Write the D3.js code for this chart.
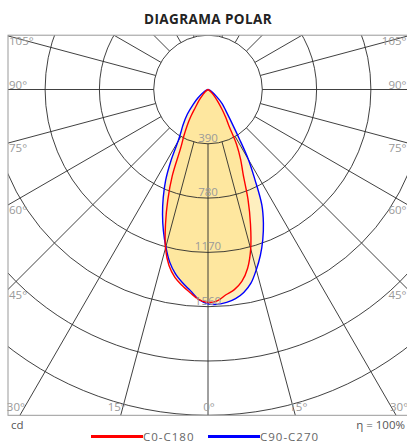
<!DOCTYPE html>
<meta charset="utf-8">
<style>
body { margin: 0; background: #fff; }
text { font-family: "Open Sans", "Lato", sans-serif; }
.grid line, .grid circle { fill: none; stroke: #2b2b2b; stroke-width: 0.9; }
.lbl { fill: #9a9a9a; font-size: 11.5px; }
</style>
<body>
<script src="https://cdn.jsdelivr.net/npm/d3@7"></script>
<script>

// photometric data (cd), angles from nadir
var angles = [0, 2.5, 5, 7.5, 10, 12.5, 15, 17.5, 20, 22.5, 25, 27.5, 30, 32.5, 35, 40, 45, 50, 60, 70, 80, 90];
var c0   = [1530, 1520, 1480, 1450, 1400, 1315, 1185, 1015, 840, 660, 555, 445, 300, 235, 180, 100, 55, 30, 5, 0, 0, 0];
var c180 = [1530, 1510, 1465, 1420, 1370, 1295, 1180, 1015, 845, 670, 465, 375, 300, 230, 160, 95, 50, 30, 5, 0, 0, 0];
var c90  = [1540, 1545, 1535, 1515, 1480, 1425, 1340, 1250, 1150, 1040, 915, 730, 580, 415, 310, 200, 145, 85, 30, 0, 0, 0];
var c270 = [1540, 1510, 1450, 1400, 1345, 1270, 1170, 1065, 955, 840, 720, 575, 430, 360, 315, 230, 150, 95, 35, 0, 0, 0];

var rings = [390, 780, 1170, 1560, 1950, 2340];
var ringLabels = [390, 780, 1170, 1560];
var spokes = d3.range(-165, 181, 15);
var sideLabels = [45, 60, 75, 90, 105];
var bottomLabels = [-30, -15, 0, 15, 30];

var width = 407, height = 444;
var cx = 208, cy = 89.5;

var r = d3.scaleLinear().domain([0, 390]).range([0, 54.3]);

var box = {x0: 8, x1: 407.5, y0: cy - r(390), y1: cy + r(2340)};

var svg = d3.select("body").append("svg")
    .attr("width", width)
    .attr("height", height);

svg.append("text")
    .attr("x", 208)
    .attr("y", 24)
    .attr("text-anchor", "middle")
    .style("font-size", "13.5px")
    .style("font-weight", 700)
    .style("letter-spacing", "0.4px")
    .style("fill", "#222")
    .text("DIAGRAMA POLAR");

svg.append("clipPath")
    .attr("id", "clip")
  .append("rect")
    .attr("x", box.x0)
    .attr("y", box.y0)
    .attr("width", box.x1 - box.x0)
    .attr("height", box.y1 - box.y0);

var plot = svg.append("g")
    .attr("clip-path", "url(#clip)");

var center = plot.append("g")
    .attr("transform", "translate(" + cx + "," + cy + ")");

// curves: theta measured from nadir, negative = left half
function pts(left, right) {
  var p = [];
  for (var i = angles.length - 1; i >= 0; i--) p.push([-angles[i], left[i]]);
  for (var j = 1; j < angles.length; j++) p.push([angles[j], right[j]]);
  return p;
}

var line = d3.lineRadial()
    .angle(function(d) { return Math.PI - d[0] * Math.PI / 180; })
    .radius(function(d) { return r(d[1]); })
    .curve(d3.curveCatmullRomClosed);

var red = pts(c180, c0), blue = pts(c270, c90);

center.selectAll(".fill")
    .data([red, blue])
  .enter().append("path")
    .attr("d", line)
    .style("fill", "rgb(253,224,128)")
    .style("fill-opacity", 0.5)
    .style("stroke", "none");

var grid = center.append("g").attr("class", "grid");

grid.selectAll("circle")
    .data(rings)
  .enter().append("circle")
    .attr("r", function(d) { return r(d); });

grid.selectAll("line")
    .data(spokes)
  .enter().append("line")
    .attr("x1", function(d) { return r(390) * Math.sin(d * Math.PI / 180); })
    .attr("y1", function(d) { return r(390) * Math.cos(d * Math.PI / 180); })
    .attr("x2", function(d) { return 600 * Math.sin(d * Math.PI / 180); })
    .attr("y2", function(d) { return 600 * Math.cos(d * Math.PI / 180); });

center.selectAll(".curve")
    .data([{p: blue, c: "#0000ff"}, {p: red, c: "#ff0000"}])
  .enter().append("path")
    .attr("d", function(d) { return line(d.p); })
    .style("fill", "none")
    .style("stroke", function(d) { return d.c; })
    .style("stroke-width", 1.4);

center.selectAll(".rlbl")
    .data(ringLabels)
  .enter().append("text")
    .attr("class", "lbl")
    .attr("x", 0)
    .attr("y", function(d) { return r(d) - 2; })
    .attr("text-anchor", "middle")
    .text(function(d) { return d; });

// box
svg.append("rect")
    .attr("x", box.x0)
    .attr("y", box.y0)
    .attr("width", box.x1 - box.x0)
    .attr("height", box.y1 - box.y0)
    .style("fill", "none")
    .style("stroke", "#999")
    .style("stroke-width", 1);

// side angle labels
function sideY(a) {
  var t = a * Math.PI / 180;
  return cy + (cx - box.x0) / Math.sin(t) * Math.cos(t);
}

sideLabels.forEach(function(a) {
  var y = sideY(a), base = a === 90 ? y - 1 : y + 9;
  svg.append("text").attr("class", "lbl")
      .attr("x", box.x0 + 1).attr("y", base)
      .text(a + "°");
  svg.append("text").attr("class", "lbl")
      .attr("x", box.x1 - 1).attr("y", base)
      .attr("text-anchor", "end")
      .text(a + "°");
});

bottomLabels.forEach(function(a) {
  var x = cx + (box.y1 - cy) * Math.tan(a * Math.PI / 180);
  var off = a < 0 ? -4 : (a > 0 ? 3 : 1);
  svg.append("text").attr("class", "lbl")
      .attr("x", x + off).attr("y", box.y1 - 4)
      .attr("text-anchor", "middle")
      .text(Math.abs(a) + "°");
});

svg.append("text").attr("class", "lbl")
    .attr("x", 11).attr("y", 429)
    .style("fill", "#555")
    .text("cd");

svg.append("text").attr("class", "lbl")
    .attr("x", 405).attr("y", 429)
    .attr("text-anchor", "end")
    .style("fill", "#555")
    .text("η = 100%");

// legend
var legend = [{name: "C0-C180", c: "#ff0000", x: 91}, {name: "C90-C270", c: "#0000ff", x: 208}];
legend.forEach(function(d) {
  svg.append("line")
      .attr("x1", d.x).attr("x2", d.x + 52)
      .attr("y1", 436.5).attr("y2", 436.5)
      .style("stroke", d.c).style("stroke-width", 3);
  svg.append("text").attr("class", "lbl")
      .attr("x", d.x + 52).attr("y", 440.5)
      .style("fill", "#666")
      .style("font-size", "11.5px")
      .style("letter-spacing", "1px")
      .text(d.name);
});

</script>
</body>
